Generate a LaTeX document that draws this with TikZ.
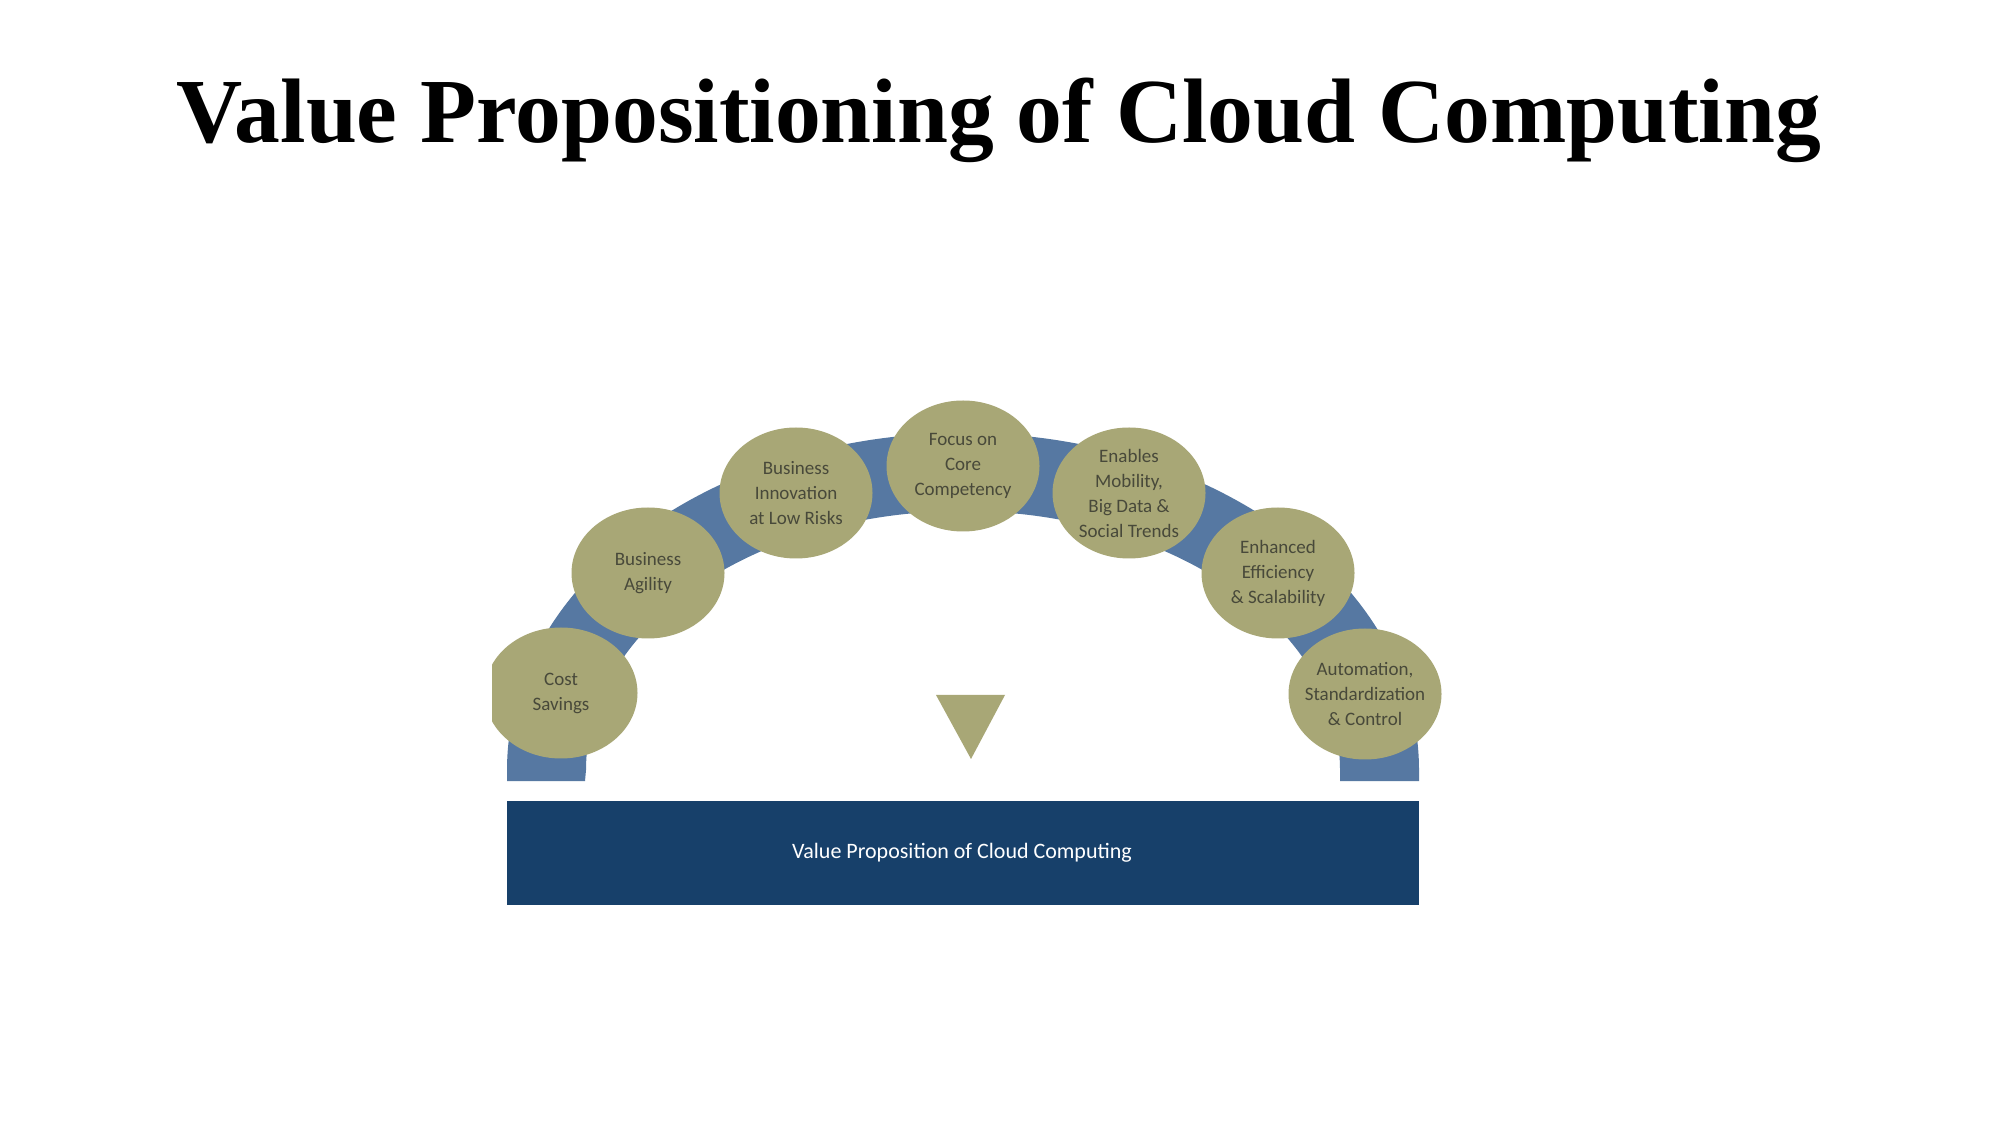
\documentclass[tikz,border=0pt]{standalone}
\usepackage{fontspec}
\setmainfont{Liberation Serif}
\newfontfamily\gillfont{Carlito}
\usetikzlibrary{shapes.geometric}
\definecolor{olivefill}{RGB}{168,167,118}
\definecolor{bandblue}{RGB}{86,120,162}
\definecolor{barblue}{RGB}{23,64,106}
\definecolor{ovaltext}{RGB}{72,73,58}
\tikzset{
  oval/.style={ellipse, fill=olivefill, minimum width=153pt, minimum height=131pt, inner sep=-15pt,
    text=ovaltext, align=center, font=\gillfont\fontsize{19}{25}\selectfont},
  band/.style={fill=bandblue},
  titletext/.style={font=\bfseries\fontsize{91.6}{100}\selectfont, anchor=base},
  bartext/.style={text=white, font=\gillfont\fontsize{22}{26}\selectfont}
}
\begin{document}
\begin{tikzpicture}[x=1pt,y=1pt]
\useasboundingbox (0,0) rectangle (2001,1125);
\fill[white] (0,0) rectangle (2001,1125);
\node[titletext] (title) at (999,982) {Value Propositioning of Cloud Computing};
\begin{scope}
\clip (492,0) rectangle (2001,1125);
\fill[band] (507,344) -- (507,355) arc[start angle=180,end angle=0,x radius=456pt,y radius=337pt]
  -- (1419,344) -- (1340,344) -- (1340,355) arc[start angle=0,end angle=180,x radius=377pt,y radius=259pt]
  -- (585,344) -- cycle;
\node[oval] (cost) at (561,432) {Cost\\Savings};
\node[oval] (agility) at (648,552) {Business\\Agility};
\node[oval] (innov) at (796,632) {Business\\Innovation\\at Low Risks};
\node[oval] (focus) at (963,659) {Focus on\\Core\\Competency};
\node[oval] (mobility) at (1129,632) {Enables\\Mobility,\\Big Data \&\\Social Trends};
\node[oval] (effic) at (1278,552) {Enhanced\\Efficiency\\\& Scalability};
\node[oval] (auto) at (1365,431) {Automation,\\Standardization\\\& Control};
\end{scope}
\fill[olivefill] (936,430) -- (1005,430) -- (971,366) -- cycle;
\fill[barblue] (507,220) rectangle (1419,324);
\node[bartext] (bar) at (962,272) {Value Proposition of Cloud Computing};
\end{tikzpicture}
\end{document}
